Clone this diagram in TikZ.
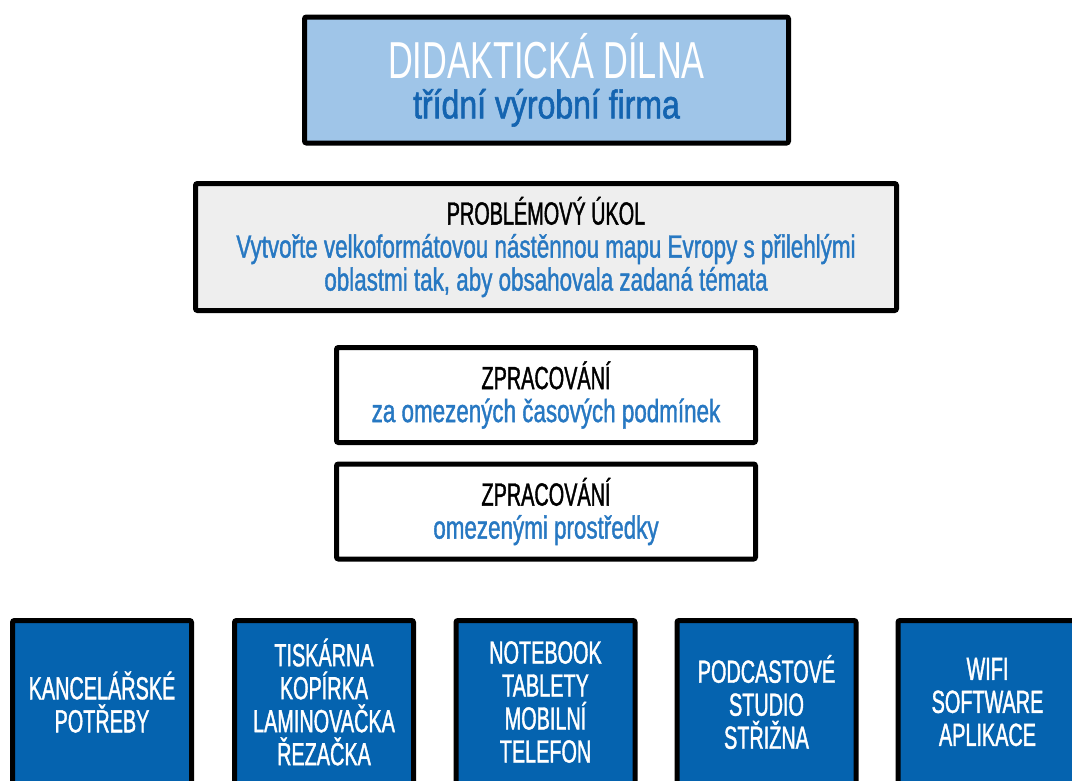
\documentclass[tikz,border=0pt]{standalone}
\usepackage{fontspec}
\setmainfont[FakeStretch=0.62,FakeBold=1.2]{Liberation Sans}
\newfontfamily\lowfont[FakeStretch=0.70,FakeBold=1.2]{Liberation Sans}
\newfontfamily\titlefont[FakeStretch=0.66]{Liberation Sans}
\newfontfamily\subfont[FakeStretch=0.80,FakeBold=1.4]{Liberation Sans}
\usepackage{tikz}

\definecolor{headfill}{HTML}{9FC5E8}
\definecolor{taskfill}{HTML}{EEEEEE}
\definecolor{toolfill}{HTML}{0563AF}
\definecolor{subblue}{HTML}{1464B0}
\definecolor{textblue}{HTML}{2778C2}

\tikzset{
  headbox/.style={fill=headfill, minimum width=484, minimum height=126},
  taskbox/.style={fill=taskfill, minimum width=701, minimum height=127},
  workbox/.style={fill=white, minimum width=419, minimum height=95},
  toolbox/.style={fill=toolfill, text=white, minimum width=179, minimum height=163}
}

\begin{document}
\begin{tikzpicture}[x=1pt, y=-1pt, every node/.style={draw, line width=5pt, rounded corners=2pt, align=center, inner sep=0pt, font=\fontsize{32}{33}\selectfont}]
\clip (0,0) rectangle (1072,780);

% top
\node[headbox] (dilna) at (546.5,80) {{\color{white}\titlefont\fontsize{52}{54}\selectfont DIDAKTICKÁ DÍLNA}\\[7pt]{\color{subblue}\subfont\fontsize{40}{40}\selectfont třídní výrobní firma}};

% task
\node[taskbox] (ukol) at (546,247) {PROBLÉMOVÝ ÚKOL\\{\color{textblue}\lowfont Vytvořte velkoformátovou nástěnnou mapu Evropy s přilehlými}\\{\color{textblue}\lowfont oblastmi tak, aby obsahovala zadaná témata}};

% conditions
\node[workbox] (cas) at (546,395) {ZPRACOVÁNÍ\\{\color{textblue}\lowfont za omezených časových podmínek}};
\node[workbox] (prostredky) at (546,511.5) {ZPRACOVÁNÍ\\{\color{textblue}\lowfont omezenými prostředky}};

% tools
\node[toolbox] (potreby) at (102,702) {KANCELÁŘSKÉ\\POTŘEBY};
\node[toolbox] (tiskarna) at (324,702) {TISKÁRNA\\KOPÍRKA\\LAMINOVAČKA\\ŘEZAČKA};
\node[toolbox] (notebook) at (545.5,702) {NOTEBOOK\\TABLETY\\MOBILNÍ\\TELEFON};
\node[toolbox] (studio) at (766.5,702) {PODCASTOVÉ\\STUDIO\\STŘIŽNA};
\node[toolbox] (wifi) at (987.5,702) {WIFI\\SOFTWARE\\APLIKACE};
\end{tikzpicture}
\end{document}
